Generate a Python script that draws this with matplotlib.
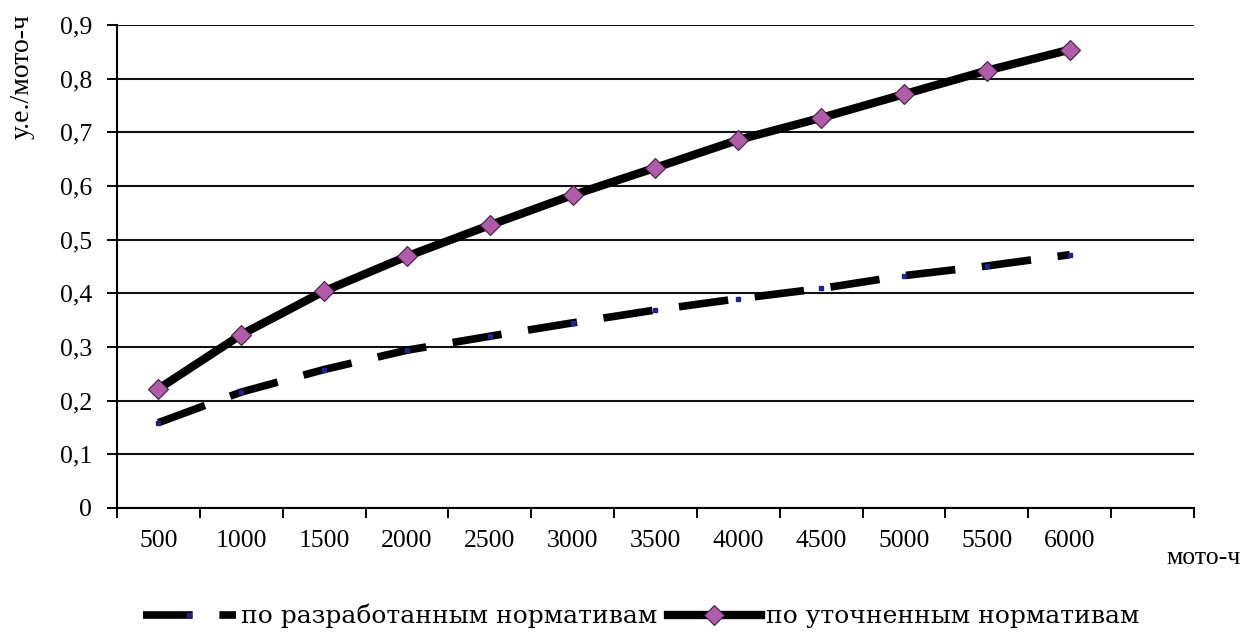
import matplotlib

matplotlib.use("Agg")
import matplotlib.pyplot as plt
import numpy as np

# hours of operation (categories) and cost per hour
categories = ["500", "1000", "1500", "2000", "2500", "3000",
              "3500", "4000", "4500", "5000", "5500", "6000"]
developed = [0.159, 0.216, 0.258, 0.294, 0.320, 0.345,
             0.369, 0.390, 0.409, 0.433, 0.451, 0.472]
refined = [0.222, 0.323, 0.404, 0.469, 0.527, 0.583,
           0.634, 0.686, 0.727, 0.771, 0.815, 0.854]
y_ticks = [0, 0.1, 0.2, 0.3, 0.4, 0.5, 0.6, 0.7, 0.8, 0.9]
y_labels = ["0", "0,1", "0,2", "0,3", "0,4", "0,5", "0,6", "0,7", "0,8", "0,9"]

plt.rcParams["font.family"] = ["Liberation Serif", "DejaVu Serif"]
FS = 18.5

fig = plt.figure(figsize=(12.47, 6.33), dpi=100)
ax = fig.add_axes([0.0938, 0.1975, 0.8637, 0.763])

x = np.arange(len(categories)) + 0.5
ax.plot(x, developed, color="black", lw=5.5, dashes=(6.5, 3.5), dash_capstyle="butt",
        marker="s", ms=2.5, mfc="#22228a", mec="#22228a", zorder=3,
        label="по разработанным нормативам")
ax.plot(x, refined, color="black", lw=6, marker="D", ms=10,
        mfc="#b05ca8", mec="#402040", mew=0.8, zorder=4,
        label="по уточненным нормативам")

ax.set_xlim(0, len(categories) + 1)
ax.set_ylim(0, 0.9)

# category boundaries carry the tick marks, labels sit in the middle
ax.set_xticks(np.arange(len(categories) + 2))
ax.set_xticklabels([])
ax.set_xticks(x, minor=True)
ax.set_xticklabels(categories, minor=True, fontsize=FS)
ax.tick_params(axis="x", which="major", direction="out", length=7, width=1.4)
ax.tick_params(axis="x", which="minor", length=0, pad=16)

ax.set_yticks(y_ticks)
ax.set_yticklabels(y_labels, fontsize=FS)
ax.tick_params(axis="y", direction="out", length=7, width=1.4, pad=11)

ax.grid(axis="y", color="#111111", lw=1.5)
ax.set_axisbelow(True)
for side in ("top", "right"):
    ax.spines[side].set_visible(False)
for side in ("left", "bottom"):
    ax.spines[side].set_linewidth(1.5)

fig.text(22 / 1247, 1 - 14 / 633, "у.е./мото-ч", rotation=90, ha="center", va="top", fontsize=FS + 1.5)
fig.text(1204 / 1247, 1 - 558 / 633, "мото-ч", ha="center", va="center", fontsize=FS)

# the legend text in the original is set wide, DejaVu Serif gets close to it
fig.legend(loc="center", bbox_to_anchor=(0.514, 1 - 616 / 633), ncol=2, frameon=False,
           prop={"family": "DejaVu Serif", "size": 18},
           handlelength=3.7, handletextpad=0.2, columnspacing=0.45)

fig.savefig("out.png", dpi=100)
